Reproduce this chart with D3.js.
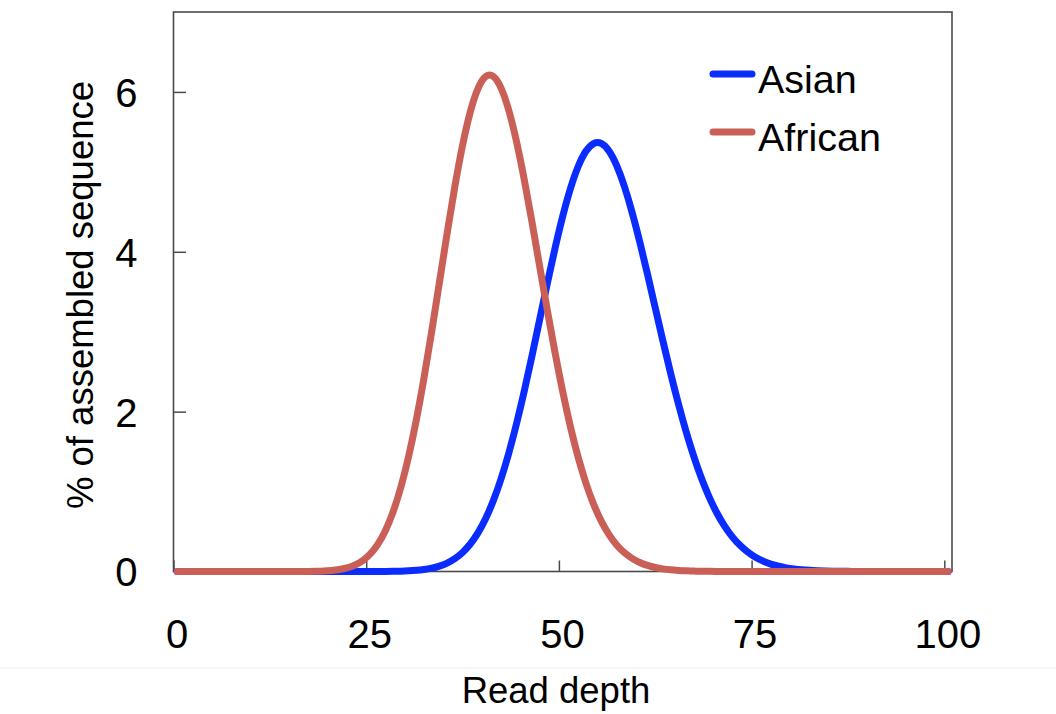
<!DOCTYPE html>
<html>
<head>
<meta charset="utf-8">
<script src="https://cdn.jsdelivr.net/npm/d3@7"></script>
<style>
  html, body { margin: 0; padding: 0; background: #fff; }
  svg { display: block; }
  text { font-family: "Liberation Sans", Arial, Helvetica, sans-serif; fill: #000; }
</style>
</head>
<body>
<svg id="chart" width="1056" height="714"></svg>
<script>
// Read depth (bin centres)
const depth = [
  0.5, 1.5, 2.5, 3.5, 4.5, 5.5, 6.5, 7.5, 8.5, 9.5,
  10.5, 11.5, 12.5, 13.5, 14.5, 15.5, 16.5, 17.5, 18.5, 19.5,
  20.5, 21.5, 22.5, 23.5, 24.5, 25.5, 26.5, 27.5, 28.5, 29.5,
  30.5, 31.5, 32.5, 33.5, 34.5, 35.5, 36.5, 37.5, 38.5, 39.5,
  40.5, 41.5, 42.5, 43.5, 44.5, 45.5, 46.5, 47.5, 48.5, 49.5,
  50.5, 51.5, 52.5, 53.5, 54.5, 55.5, 56.5, 57.5, 58.5, 59.5,
  60.5, 61.5, 62.5, 63.5, 64.5, 65.5, 66.5, 67.5, 68.5, 69.5,
  70.5, 71.5, 72.5, 73.5, 74.5, 75.5, 76.5, 77.5, 78.5, 79.5,
  80.5, 81.5, 82.5, 83.5, 84.5, 85.5, 86.5, 87.5, 88.5, 89.5,
  90.5, 91.5, 92.5, 93.5, 94.5, 95.5, 96.5, 97.5, 98.5, 99.5,
  100.5
];

// % of assembled sequence
const asian = [
  0, 0, 0, 0, 0, 0, 0, 0, 0, 0,
  0, 0, 0, 0, 0, 0, 0, 0, 0, 0,
  0, 0, 0, 0, 0, 0, 0.001, 0.001, 0.002, 0.004,
  0.008, 0.014, 0.024, 0.041, 0.066, 0.103, 0.157, 0.234, 0.338, 0.477,
  0.656, 0.880, 1.152, 1.474, 1.842, 2.251, 2.691, 3.149, 3.608, 4.050,
  4.455, 4.804, 5.081, 5.273, 5.371, 5.371, 5.275, 5.090, 4.827, 4.500,
  4.125, 3.719, 3.299, 2.880, 2.475, 2.094, 1.745, 1.433, 1.159, 0.924,
  0.726, 0.562, 0.429, 0.324, 0.240, 0.176, 0.128, 0.091, 0.064, 0.045,
  0.031, 0.021, 0.014, 0.009, 0.006, 0.004, 0.003, 0.002, 0.001, 0.001,
  0, 0, 0, 0, 0, 0, 0, 0, 0, 0,
  0
];

const african = [
  0, 0, 0, 0, 0, 0, 0, 0, 0, 0,
  0, 0, 0, 0, 0, 0, 0.001, 0.001, 0.003, 0.006,
  0.012, 0.023, 0.042, 0.075, 0.128, 0.210, 0.332, 0.504, 0.737, 1.042,
  1.425, 1.884, 2.414, 2.999, 3.617, 4.237, 4.826, 5.348, 5.770, 6.066,
  6.218, 6.218, 6.070, 5.788, 5.393, 4.914, 4.380, 3.821, 3.264, 2.731,
  2.239, 1.800, 1.419, 1.098, 0.834, 0.622, 0.455, 0.327, 0.231, 0.161,
  0.110, 0.074, 0.049, 0.032, 0.020, 0.013, 0.008, 0.005, 0.003, 0.002,
  0.001, 0, 0, 0, 0, 0, 0, 0, 0, 0,
  0, 0, 0, 0, 0, 0, 0, 0, 0, 0,
  0, 0, 0, 0, 0, 0, 0, 0, 0, 0,
  0
];

const seriesNames = ["Asian", "African"];
const seriesColors = ["#0a2cff", "#c95f57"];
const xTicks = [0, 25, 50, 75, 100];
const yTicks = [0, 2, 4, 6];
const xTitle = "Read depth";
const yTitle = "% of assembled sequence";

const svg = d3.select("#chart");
const plotLeft = 173.5, plotRight = 952, plotTop = 12, plotBottom = 571.5;

const x = d3.scaleLinear().domain([0, 101]).range([plotLeft, plotRight]);
const y = d3.scaleLinear().domain([0, 7]).range([plotBottom, plotTop]);

// faint separator line across the picture
svg.append("line")
  .attr("x1", 0).attr("x2", 1056)
  .attr("y1", 668).attr("y2", 668)
  .attr("stroke", "#efefef").attr("stroke-width", 1);

// plot frame
svg.append("rect")
  .attr("x", plotLeft).attr("y", plotTop)
  .attr("width", plotRight - plotLeft).attr("height", plotBottom - plotTop)
  .attr("fill", "none").attr("stroke", "#4a4a4a").attr("stroke-width", 1.6);

// x axis (ticks inside)
const xAxis = d3.axisBottom(x).tickValues(xTicks).tickSizeInner(-11).tickSizeOuter(0).tickPadding(0)
  .tickFormat(d3.format("d"));
const gx = svg.append("g").attr("transform", `translate(0,${plotBottom})`).call(xAxis);
gx.select(".domain").remove();
gx.selectAll(".tick line").attr("stroke", "#4a4a4a").attr("stroke-width", 1.5);
gx.selectAll(".tick text")
  .attr("y", 0).attr("dy", 0)
  .attr("transform", "translate(3,76)")
  .style("font-size", "40px")
  .style("font-family", '"Liberation Sans", Arial, sans-serif')
  .attr("fill", "#000");

// y axis (ticks inside)
const yAxis = d3.axisLeft(y).tickValues(yTicks).tickSizeInner(-12.5).tickSizeOuter(0).tickPadding(0)
  .tickFormat(d3.format("d"));
const gy = svg.append("g").attr("transform", `translate(${plotLeft},0)`).call(yAxis);
gy.select(".domain").remove();
gy.selectAll(".tick line").attr("stroke", "#4a4a4a").attr("stroke-width", 1.5);
gy.selectAll(".tick text")
  .attr("x", -36).attr("dy", "0.36em")
  .style("font-size", "40px")
  .style("font-family", '"Liberation Sans", Arial, sans-serif')
  .attr("text-anchor", "end")
  .attr("fill", "#000");

// axis titles
svg.append("text")
  .attr("x", 556).attr("y", 703)
  .attr("text-anchor", "middle")
  .style("font-size", "36.5px")
  .text(xTitle);

svg.append("text")
  .attr("transform", "translate(93,295) rotate(-90)")
  .attr("text-anchor", "middle")
  .style("font-size", "36.5px")
  .text(yTitle);

// lines
const seriesData = [asian, african];
const line = d3.line()
  .x((d, i) => x(depth[i]))
  .y(d => y(d))
  .curve(d3.curveBasis);

seriesData.forEach((vals, i) => {
  svg.append("path")
    .datum(vals)
    .attr("d", line)
    .attr("fill", "none")
    .attr("stroke", seriesColors[i])
    .attr("stroke-width", 7)
    .attr("stroke-linecap", "round")
    .attr("stroke-linejoin", "round");
});

// legend
const legendY = [74, 132];
seriesNames.forEach((name, i) => {
  svg.append("line")
    .attr("x1", 713).attr("x2", 752)
    .attr("y1", legendY[i]).attr("y2", legendY[i])
    .attr("stroke", seriesColors[i])
    .attr("stroke-width", 7)
    .attr("stroke-linecap", "round");
  svg.append("text")
    .attr("x", 758).attr("y", legendY[i] + 19)
    .style("font-size", "39.5px")
    .text(name);
});
</script>
</body>
</html>
